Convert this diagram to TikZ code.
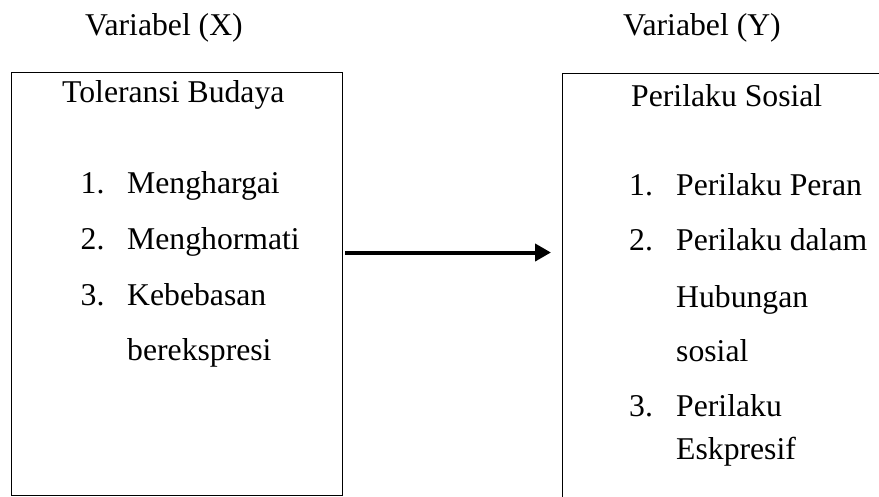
\documentclass[tikz,border=0pt]{standalone}
\usepackage{fontspec}
\setmainfont{Liberation Serif}
\usetikzlibrary{arrows.meta}
\begin{document}
\begin{tikzpicture}[x=1pt,y=-1pt,
  txt/.style={anchor=base west, inner sep=0pt, font=\fontsize{31.7}{38}\selectfont},
  frame/.style={draw=black, line width=1.2pt, inner sep=0pt, anchor=north west},
  link/.style={line width=4pt, -{Triangle[length=16pt,width=17pt]}}]
\useasboundingbox (0,0) rectangle (879,496);
\clip (0,0) rectangle (879,496);
% boxes
\node[frame, minimum width=331pt, minimum height=423.3pt] (boxX) at (11,71.7) {};
\node[frame, minimum width=340pt, minimum height=440pt] (boxY) at (561.7,72.7) {};
% headings
\node[txt] (varX) at (85,35) {Variabel (X)};
\node[txt] (varY) at (623,35) {Variabel (Y)};
\node[txt] (titX) at (62,102) {Toleransi Budaya};
\node[txt] (titY) at (631,106) {Perilaku Sosial};
% left list
\node[txt] (nX1) at (80.5,193) {1.};
\node[txt] (iX1) at (127,193) {Menghargai};
\node[txt] (nX2) at (80.5,249) {2.};
\node[txt] (iX2) at (127,249) {Menghormati};
\node[txt] (nX3) at (80.5,305) {3.};
\node[txt] (iX3) at (127,305) {Kebebasan};
\node[txt] (iX3b) at (127,360) {berekspresi};
% right list
\node[txt] (nY1) at (629,195) {1.};
\node[txt] (iY1) at (676,195) {Perilaku Peran};
\node[txt] (nY2) at (629,250) {2.};
\node[txt] (iY2) at (676,250) {Perilaku dalam};
\node[txt] (iY2b) at (676,307) {Hubungan};
\node[txt] (iY2c) at (676,361) {sosial};
\node[txt] (nY3) at (629,416) {3.};
\node[txt] (iY3) at (676,416) {Perilaku};
\node[txt] (iY3b) at (676,459) {Eskpresif};
% arrow
\coordinate (arrS) at (345,252.5);
\coordinate (arrE) at (551,252.5);
\draw[link] (arrS) -- (arrE);
\end{tikzpicture}
\end{document}
